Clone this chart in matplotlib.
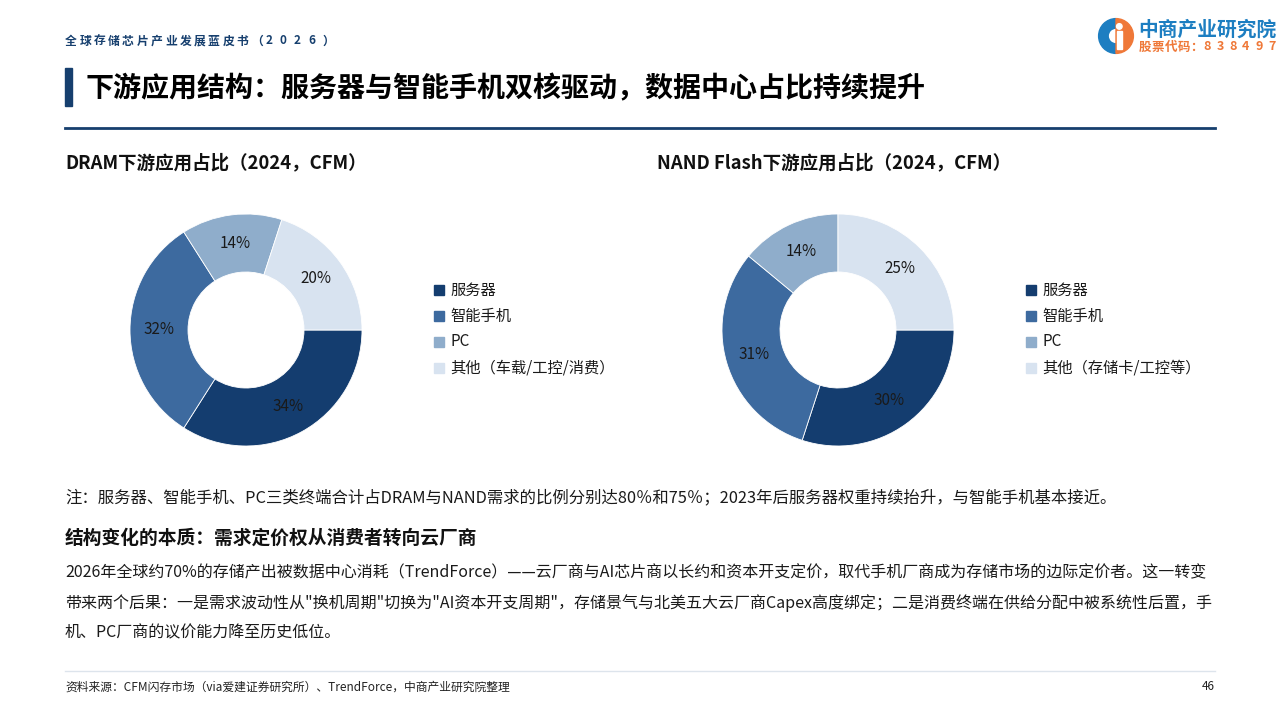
import matplotlib.pyplot as plt
from matplotlib.patches import Rectangle, Wedge, Circle
from matplotlib.lines import Line2D

plt.rcParams['font.family'] = ['Noto Sans CJK SC', 'DejaVu Sans']

## data
categories = ['服务器', '智能手机', 'PC']
dram_labels = categories + ['其他（车载/工控/消费）']
nand_labels = categories + ['其他（存储卡/工控等）']
dram_share = [34, 32, 14, 20]
nand_share = [30, 31, 14, 25]

colors = ['#143d6f', '#3d6a9f', '#8fadcb', '#d8e3f0']
navy = '#163f6e'

W, H = 1280, 720
fig = plt.figure(figsize=(12.8, 7.2), dpi=100)

def px(x, y):
    # pixel coords (from top-left) -> figure fraction
    return x / W, 1 - y / H

def txt(x, y, s, **kw):
    fx, fy = px(x, y)
    fig.text(fx, fy, s, **kw)

## header
header = '全球存储芯片产业发展蓝皮书（2026）'
for i, ch in enumerate(header):
    txt(65 + i * 14.3, 41, ch, fontsize=8.5, color=navy, weight='bold', va='center')

# logo
lax = fig.add_axes([1096 / W, 1 - 56 / H, 40 / W, 40 / H])
lax.set_xlim(-1.15, 1.15)
lax.set_ylim(-1.15, 1.15)
lax.set_aspect('equal')
lax.axis('off')
lax.add_patch(Wedge((0, 0), 1, 90, 270, width=0.55, color='#1d7ec1'))
lax.add_patch(Wedge((0, 0), 1, -90, 90, color='#ef7838'))
lax.add_patch(Rectangle((0.05, -0.75), 0.28, 1.05, color='white'))
lax.add_patch(Circle((0.19, 0.55), 0.16, color='white'))
txt(1138, 30, '中商产业研究院', fontsize=14.2, color='#1d7ec1', weight='bold', va='center')
code = '股票代码：838497'
for i, ch in enumerate(code):
    txt(1139 + i * 12.9, 47, ch, fontsize=9, color='#ef7838', weight='bold', va='center')

## title
fig.patches.append(Rectangle(px(65, 106), 7 / W, 38 / H, transform=fig.transFigure,
                             color=navy, figure=fig))
txt(86, 89, '下游应用结构：服务器与智能手机双核驱动，数据中心占比持续提升',
    fontsize=20.2, weight='heavy', color='black', va='center')
fig.lines.append(Line2D([65 / W, 1215 / W], [1 - 128 / H] * 2, transform=fig.transFigure,
                        color=navy, lw=2))

## pie charts
def donut(cx, cy, values, labels, title_x, title, leg_x):
    r = 116
    ax = fig.add_axes([(cx - r) / W, 1 - (cy + r) / H, 2 * r / W, 2 * r / H])
    wedges, texts, autotexts = ax.pie(values, colors=colors, startangle=0, counterclock=False,
                                      radius=1, autopct=lambda p: f'{p:.0f}%', pctdistance=0.75,
                                      wedgeprops=dict(width=0.5, edgecolor='white', linewidth=0.6),
                                      textprops=dict(fontsize=11, color='#1a1a1a'))
    ax.set_xlim(-1, 1)
    ax.set_ylim(-1, 1)
    ax.set_aspect('equal')
    txt(title_x, 163, title, fontsize=13.3, weight='bold', color='#111111', va='center')
    for i, lab in enumerate(labels):
        y = 290 + i * 26
        fig.patches.append(Rectangle(px(leg_x, y + 5), 10 / W, 10 / H, transform=fig.transFigure,
                                     color=colors[i], figure=fig))
        txt(leg_x + 16, y, lab, fontsize=11, color='#1a1a1a', va='center')

donut(246, 330, dram_share, dram_labels, 65, 'DRAM下游应用占比（2024，CFM）', 434)
donut(838, 330, nand_share, nand_labels, 657, 'NAND Flash下游应用占比（2024，CFM）', 1026)

## notes
txt(65, 498, '注：服务器、智能手机、PC三类终端合计占DRAM与NAND需求的比例分别达80％和75％；2023年后服务器权重持续抬升，与智能手机基本接近。',
    fontsize=11.8, color='#1a1a1a', va='center')
txt(65, 538, '结构变化的本质：需求定价权从消费者转向云厂商', fontsize=13.5, weight='bold',
    color='#111111', va='center')
para = [
    '2026年全球约70%的存储产出被数据中心消耗（TrendForce）——云厂商与AI芯片商以长约和资本开支定价，取代手机厂商成为存储市场的边际定价者。这一转变',
    '带来两个后果：一是需求波动性从"换机周期"切换为"AI资本开支周期"，存储景气与北美五大云厂商Capex高度绑定；二是消费终端在供给分配中被系统性后置，手',
    '机、PC厂商的议价能力降至历史低位。',
]
for i, line in enumerate(para):
    txt(65, 573 + i * 30, line, fontsize=11.5, color='#1a1a1a', va='center')

## footer
fig.lines.append(Line2D([65 / W, 1215 / W], [1 - 671 / H] * 2, transform=fig.transFigure,
                        color='#dde4ec', lw=1))
txt(65, 687, '资料来源：CFM闪存市场（via爱建证券研究所）、TrendForce，中商产业研究院整理',
    fontsize=8.5, color='#222222', va='center')
txt(1215, 687, '46', fontsize=8.5, color='#222222', va='center', ha='right')

fig.savefig('out.png', dpi=100)
